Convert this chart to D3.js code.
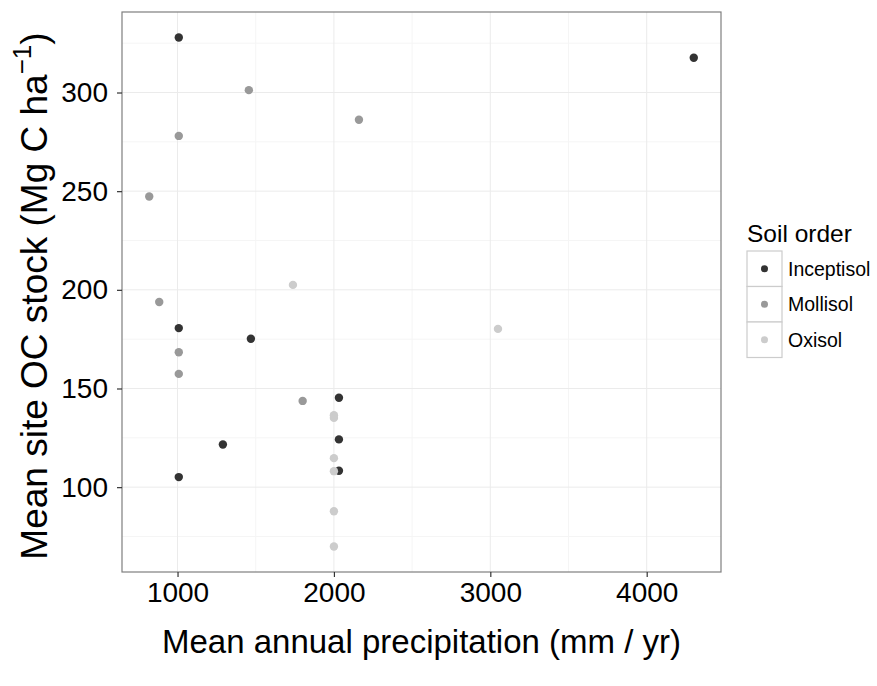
<!DOCTYPE html>
<html>
<head>
<meta charset="utf-8">
<script src="https://cdn.jsdelivr.net/npm/d3@7"></script>
<style>
  html, body { margin: 0; padding: 0; background: #fff; }
  text { font-family: "Liberation Sans", Arial, sans-serif; }
</style>
</head>
<body>
<div id="chart"></div>
<script>
// ── DATA ──────────────────────────────────────────────────────────────────
const orders = ["Inceptisol", "Mollisol", "Oxisol"];

const inceptisolPrecip = [1008, 4301, 1008, 1469, 2032, 2032, 1290, 2032, 1008];
const inceptisolStock  = [327.9, 317.6, 180.6, 175.2, 145.3, 124.2, 121.6, 108.3, 105.1];

const mollisolPrecip = [1456, 1008, 2160, 819, 883, 1008, 1008, 1800];
const mollisolStock  = [301.2, 278.0, 286.2, 247.3, 193.8, 168.4, 157.4, 143.7];

const oxisolPrecip = [1738, 3049, 2000, 2000, 2000, 2000, 2000, 2000];
const oxisolStock  = [202.5, 180.2, 136.5, 135.1, 114.7, 108.1, 87.8, 69.9];

const xTicks = [1000, 2000, 3000, 4000];
const yTicks = [100, 150, 200, 250, 300];

const colors = { Inceptisol: "#333333", Mollisol: "#999999", Oxisol: "#cccccc" };

const points = [
  ...inceptisolPrecip.map((x, i) => ({ order: "Inceptisol", x, y: inceptisolStock[i] })),
  ...mollisolPrecip.map((x, i) => ({ order: "Mollisol", x, y: mollisolStock[i] })),
  ...oxisolPrecip.map((x, i) => ({ order: "Oxisol", x, y: oxisolStock[i] })),
];

// ── LAYOUT ────────────────────────────────────────────────────────────────
const totalW = 877, totalH = 686;
const panel = { left: 122, right: 721, top: 12, bottom: 572 };
const FONT = "'Liberation Sans', Arial, sans-serif";

// ggplot-style 5% expansion
const xExt = d3.extent(points, d => d.x), yExt = d3.extent(points, d => d.y);
const xPad = (xExt[1] - xExt[0]) * 0.05, yPad = (yExt[1] - yExt[0]) * 0.05;

const x = d3.scaleLinear()
  .domain([xExt[0] - xPad, xExt[1] + xPad])
  .range([panel.left, panel.right]);
const y = d3.scaleLinear()
  .domain([yExt[0] - yPad, yExt[1] + yPad])
  .range([panel.bottom, panel.top]);

const svg = d3.select("#chart").append("svg")
  .attr("width", totalW).attr("height", totalH);

svg.append("rect").attr("width", totalW).attr("height", totalH).attr("fill", "#fff");

// ── GRID ──────────────────────────────────────────────────────────────────
const xMinor = xTicks.map(t => t - 500).concat([xTicks[xTicks.length - 1] + 500])
  .filter(t => t > x.domain()[0] && t < x.domain()[1]);
const yMinor = yTicks.map(t => t - 25).concat([yTicks[yTicks.length - 1] + 25])
  .filter(t => t > y.domain()[0] && t < y.domain()[1]);

const grid = svg.append("g");
grid.selectAll(".xminor").data(xMinor).join("line")
  .attr("x1", d => x(d)).attr("x2", d => x(d))
  .attr("y1", panel.top).attr("y2", panel.bottom)
  .attr("stroke", "#f5f5f5").attr("stroke-width", 1);
grid.selectAll(".yminor").data(yMinor).join("line")
  .attr("y1", d => y(d)).attr("y2", d => y(d))
  .attr("x1", panel.left).attr("x2", panel.right)
  .attr("stroke", "#f5f5f5").attr("stroke-width", 1);
grid.selectAll(".xmajor").data(xTicks).join("line")
  .attr("x1", d => x(d)).attr("x2", d => x(d))
  .attr("y1", panel.top).attr("y2", panel.bottom)
  .attr("stroke", "#ebebeb").attr("stroke-width", 1);
grid.selectAll(".ymajor").data(yTicks).join("line")
  .attr("y1", d => y(d)).attr("y2", d => y(d))
  .attr("x1", panel.left).attr("x2", panel.right)
  .attr("stroke", "#ebebeb").attr("stroke-width", 1);

// ── POINTS ────────────────────────────────────────────────────────────────
svg.append("g").selectAll("circle").data(points).join("circle")
  .attr("cx", d => x(d.x))
  .attr("cy", d => y(d.y))
  .attr("r", 4.2)
  .attr("fill", d => colors[d.order]);

// ── PANEL BORDER ──────────────────────────────────────────────────────────
svg.append("rect")
  .attr("x", panel.left).attr("y", panel.top)
  .attr("width", panel.right - panel.left).attr("height", panel.bottom - panel.top)
  .attr("fill", "none").attr("stroke", "#7f7f7f").attr("stroke-width", 1.2);

// ── AXES ──────────────────────────────────────────────────────────────────
svg.append("g")
  .attr("transform", `translate(0,${panel.bottom})`)
  .call(d3.axisBottom(x).tickValues(xTicks).tickFormat(d3.format("d")).tickSize(5).tickPadding(5))
  .call(ax => ax.select(".domain").remove())
  .call(ax => ax.selectAll(".tick line").attr("stroke", "#333").attr("stroke-width", 1.2))
  .call(ax => ax.selectAll(".tick text")
    .attr("fill", "#000")
    .attr("font-size", "28px")
    .attr("font-family", FONT));

svg.append("g")
  .attr("transform", `translate(${panel.left},0)`)
  .call(d3.axisLeft(y).tickValues(yTicks).tickFormat(d3.format("d")).tickSize(5).tickPadding(9))
  .call(ax => ax.select(".domain").remove())
  .call(ax => ax.selectAll(".tick line").attr("stroke", "#333").attr("stroke-width", 1.2))
  .call(ax => ax.selectAll(".tick text")
    .attr("fill", "#000")
    .attr("font-size", "28px")
    .attr("font-family", FONT));

// axis titles
svg.append("text")
  .attr("x", (panel.left + panel.right) / 2)
  .attr("y", 653)
  .attr("text-anchor", "middle")
  .attr("font-size", "33px")
  .attr("fill", "#000")
  .text("Mean annual precipitation (mm / yr)");

const yTitle = svg.append("text")
  .attr("transform", `translate(47,296) rotate(-90)`)
  .attr("text-anchor", "middle")
  .attr("font-size", "37px")
  .attr("fill", "#000");
yTitle.append("tspan").text("Mean site OC stock (Mg C ha");
yTitle.append("tspan").attr("font-size", "26px").attr("dy", "-16").text("\u22121");
yTitle.append("tspan").attr("dy", "16").text(")");

// ── LEGEND ────────────────────────────────────────────────────────────────
const legend = svg.append("g").attr("transform", "translate(747,251)");
legend.append("text")
  .attr("x", 0).attr("y", -9)
  .attr("font-size", "24.5px").attr("fill", "#000")
  .text("Soil order");

const keyH = 35.5, keyW = 35;
const item = legend.selectAll(".item").data(orders).join("g")
  .attr("transform", (d, i) => `translate(0,${i * keyH})`);
item.append("rect")
  .attr("width", keyW).attr("height", keyH)
  .attr("fill", "#fff").attr("stroke", "#cccccc").attr("stroke-width", 1.2);
item.append("circle")
  .attr("cx", keyW / 2).attr("cy", keyH / 2).attr("r", 3.5)
  .attr("fill", d => colors[d]);
item.append("text")
  .attr("x", keyW + 6).attr("y", keyH / 2).attr("dy", "0.35em")
  .attr("font-size", "19.5px").attr("fill", "#000")
  .text(d => d);
</script>
</body>
</html>
